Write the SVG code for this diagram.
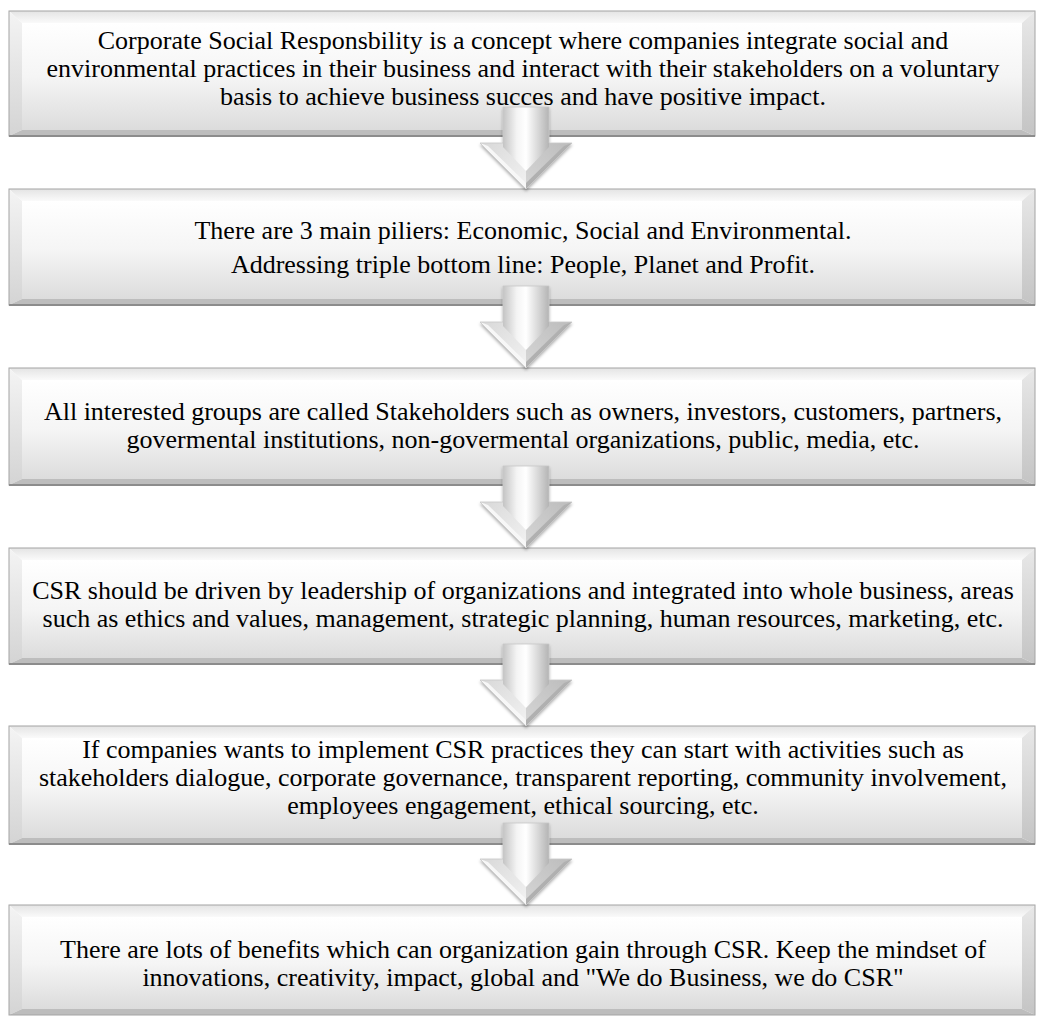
<svg xmlns="http://www.w3.org/2000/svg" xmlns:xlink="http://www.w3.org/1999/xlink" width="1037" height="1016" viewBox="0 0 1037 1016">
  <style>
    .t { font-family: "Liberation Serif", "Times New Roman", serif; font-size: 26px; fill: #000; text-anchor: middle; }
    .edge { fill: none; stroke: #a4a4a4; stroke-width: 1; }
    .shade { stroke: #8c8c8c; stroke-width: 2; }
    .bt { fill: url(#gTop); }
    .bl { fill: url(#gLeft); }
    .br { fill: url(#gRight); }
    .bb { fill: #bdbdbd; }
    .face { fill: url(#gFace); }
  </style>
  <defs>
    <linearGradient id="gFace" x1="0" y1="0" x2="0" y2="1">
      <stop offset="0" stop-color="#ffffff"/>
      <stop offset="0.5" stop-color="#f5f5f5"/>
      <stop offset="1" stop-color="#dcdcdc"/>
    </linearGradient>
    <linearGradient id="gTop" x1="0" y1="0" x2="0" y2="1">
      <stop offset="0" stop-color="#e4e4e4"/>
      <stop offset="1" stop-color="#fafafa"/>
    </linearGradient>
    <linearGradient id="gLeft" x1="0" y1="0" x2="0" y2="1">
      <stop offset="0" stop-color="#f4f4f4"/>
      <stop offset="1" stop-color="#d4d4d4"/>
    </linearGradient>
    <linearGradient id="gRight" x1="0" y1="0" x2="0" y2="1">
      <stop offset="0" stop-color="#e8e8e8"/>
      <stop offset="1" stop-color="#c4c4c4"/>
    </linearGradient>
    <linearGradient id="gShaft" x1="0" y1="0" x2="1" y2="0">
      <stop offset="0" stop-color="#c4c4c4"/>
      <stop offset="0.3" stop-color="#f4f4f4"/>
      <stop offset="0.5" stop-color="#ffffff"/>
      <stop offset="0.72" stop-color="#dedede"/>
      <stop offset="1" stop-color="#b4b4b4"/>
    </linearGradient>
    <linearGradient id="gHeadL" x1="0" y1="0" x2="1" y2="1">
      <stop offset="0" stop-color="#d8d8d8"/>
      <stop offset="1" stop-color="#f2f2f2"/>
    </linearGradient>
    <linearGradient id="gHeadR" x1="1" y1="0" x2="0" y2="1">
      <stop offset="0" stop-color="#bcbcbc"/>
      <stop offset="1" stop-color="#d6d6d6"/>
    </linearGradient>
    <filter id="drop" x="-30%" y="-20%" width="160%" height="150%">
      <feDropShadow dx="0" dy="2" stdDeviation="1.5" flood-color="#000" flood-opacity="0.3"/>
    </filter>
    <!-- 3D block arrow pointing down; origin at top centre of the shaft, tip at y=82 -->
    <g id="arrow" filter="url(#drop)">
      <polygon points="-46,36 0,36 0,82" fill="url(#gHeadL)"/>
      <polygon points="0,36 46,36 0,82" fill="url(#gHeadR)"/>
      <polygon points="-46,36 -38,39 0,76 0,82" fill="#f7f7f7"/>
      <polygon points="46,36 38,39 0,76 0,82" fill="#b0b0b0"/>
      <polygon points="-23,0 23,0 23,40 0,64 -23,40" fill="url(#gShaft)"/>
      <polygon points="-23,0 23,0 23,36 46,36 0,82 -46,36 -23,36" fill="none" stroke="#c8c8c8" stroke-width="0.8"/>
    </g>
  </defs>

  <!-- step 1 -->
  <g id="step1" transform="translate(9,11)">
    <polygon class="bt" points="0,0 1026,0 1013,12 13,12"/>
    <polygon class="bl" points="0,0 13,12 13,119 0,125"/>
    <polygon class="br" points="1026,0 1026,125 1013,119 1013,12"/>
    <polygon class="bb" points="0,125 13,119 1013,119 1026,125"/>
    <rect class="face" x="13" y="12" width="1000" height="107"/>
    <rect class="edge" x="0" y="0" width="1026" height="125"/>
    <line class="shade" x1="0" y1="125" x2="1026" y2="125"/>
    <text class="t" x="514" y="38">Corporate Social Responsbility is a concept where companies integrate social and</text>
    <text class="t" x="514" y="66">environmental practices in their business and interact with their stakeholders on a voluntary</text>
    <text class="t" x="514" y="94">basis to achieve business succes and have positive impact.</text>
  </g>

  <!-- step 2 -->
  <g id="step2" transform="translate(9,189)">
    <polygon class="bt" points="0,0 1026,0 1013,12 13,12"/>
    <polygon class="bl" points="0,0 13,12 13,110 0,116"/>
    <polygon class="br" points="1026,0 1026,116 1013,110 1013,12"/>
    <polygon class="bb" points="0,116 13,110 1013,110 1026,116"/>
    <rect class="face" x="13" y="12" width="1000" height="98"/>
    <rect class="edge" x="0" y="0" width="1026" height="116"/>
    <line class="shade" x1="0" y1="116" x2="1026" y2="116"/>
    <text class="t" x="514" y="50">There are 3 main piliers: Economic, Social and Environmental.</text>
    <text class="t" x="514" y="84">Addressing triple bottom line: People, Planet and Profit.</text>
  </g>

  <!-- step 3 -->
  <g id="step3" transform="translate(9,368)">
    <polygon class="bt" points="0,0 1026,0 1013,12 13,12"/>
    <polygon class="bl" points="0,0 13,12 13,111 0,117"/>
    <polygon class="br" points="1026,0 1026,117 1013,111 1013,12"/>
    <polygon class="bb" points="0,117 13,111 1013,111 1026,117"/>
    <rect class="face" x="13" y="12" width="1000" height="99"/>
    <rect class="edge" x="0" y="0" width="1026" height="117"/>
    <line class="shade" x1="0" y1="117" x2="1026" y2="117"/>
    <text class="t" x="514" y="52">All interested groups are called Stakeholders such as owners, investors, customers, partners,</text>
    <text class="t" x="514" y="80">govermental institutions, non-govermental organizations, public, media, etc.</text>
  </g>

  <!-- step 4 -->
  <g id="step4" transform="translate(9,548)">
    <polygon class="bt" points="0,0 1026,0 1013,12 13,12"/>
    <polygon class="bl" points="0,0 13,12 13,110 0,116"/>
    <polygon class="br" points="1026,0 1026,116 1013,110 1013,12"/>
    <polygon class="bb" points="0,116 13,110 1013,110 1026,116"/>
    <rect class="face" x="13" y="12" width="1000" height="98"/>
    <rect class="edge" x="0" y="0" width="1026" height="116"/>
    <line class="shade" x1="0" y1="116" x2="1026" y2="116"/>
    <text class="t" x="514" y="51">CSR should be driven by leadership of organizations and integrated into whole business, areas</text>
    <text class="t" x="514" y="79">such as ethics and values, management, strategic planning, human resources, marketing, etc.</text>
  </g>

  <!-- step 5 -->
  <g id="step5" transform="translate(9,726)">
    <polygon class="bt" points="0,0 1026,0 1013,12 13,12"/>
    <polygon class="bl" points="0,0 13,12 13,112 0,118"/>
    <polygon class="br" points="1026,0 1026,118 1013,112 1013,12"/>
    <polygon class="bb" points="0,118 13,112 1013,112 1026,118"/>
    <rect class="face" x="13" y="12" width="1000" height="100"/>
    <rect class="edge" x="0" y="0" width="1026" height="118"/>
    <line class="shade" x1="0" y1="118" x2="1026" y2="118"/>
    <text class="t" x="514" y="32">If companies wants to implement CSR practices they can start with activities such as</text>
    <text class="t" x="514" y="60">stakeholders dialogue, corporate governance, transparent reporting, community involvement,</text>
    <text class="t" x="514" y="88">employees engagement, ethical sourcing, etc.</text>
  </g>

  <!-- step 6 -->
  <g id="step6" transform="translate(9,905)">
    <polygon class="bt" points="0,0 1026,0 1013,12 13,12"/>
    <polygon class="bl" points="0,0 13,12 13,104 0,110"/>
    <polygon class="br" points="1026,0 1026,110 1013,104 1013,12"/>
    <polygon class="bb" points="0,110 13,104 1013,104 1026,110"/>
    <rect class="face" x="13" y="12" width="1000" height="92"/>
    <rect class="edge" x="0" y="0" width="1026" height="110"/>
    <text class="t" x="514" y="53">There are lots of benefits which can organization gain through CSR. Keep the mindset of</text>
    <text class="t" x="514" y="81">innovations, creativity, impact, global and "We do Business, we do CSR"</text>
  </g>

  <!-- down arrows between the steps -->
  <g id="connectors">
    <use xlink:href="#arrow" transform="translate(526,107)"/>
    <use xlink:href="#arrow" transform="translate(526,286)"/>
    <use xlink:href="#arrow" transform="translate(526,466)"/>
    <use xlink:href="#arrow" transform="translate(526,644)"/>
    <use xlink:href="#arrow" transform="translate(526,823)"/>
  </g>
</svg>
